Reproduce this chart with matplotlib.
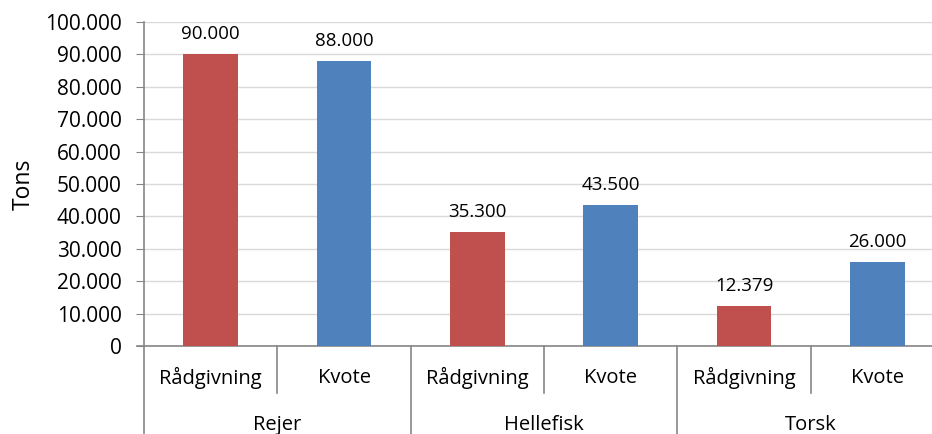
import numpy as np
import matplotlib
matplotlib.use('Agg')
import matplotlib.pyplot as plt
from matplotlib.ticker import FuncFormatter
from matplotlib.transforms import blended_transform_factory

plt.rcParams['font.family'] = ['Open Sans', 'DejaVu Sans']

# data ----------------------------------------------------------------------
species = ['Rejer', 'Hellefisk', 'Torsk']
kinds = ['Rådgivning', 'Kvote']
raadgivning = [90000, 35300, 12379]
kvote = [88000, 43500, 26000]

colors = {'Rådgivning': '#C0504D', 'Kvote': '#4F81BD'}
axis_grey = '#868686'

W, H = 932, 434
fig = plt.figure(figsize=(W / 100, H / 100), dpi=100)
# plot area in pixels: x 144..944 (cut off by the image), y 22..346
ax = fig.add_axes([144 / W, (H - 346) / H, 800 / W, 324 / H])

values = []
labels = []
for i, sp in enumerate(species):
    values += [raadgivning[i], kvote[i]]
    labels += kinds
pos = np.arange(len(values)) + 0.5
bar_colors = [colors[k] for k in labels]

bars = ax.bar(pos, values, width=0.41, color=bar_colors, zorder=3)

for b, v in zip(bars, values):
    ax.annotate('{:,}'.format(v).replace(',', '.'),
                (b.get_x() + b.get_width() / 2, v),
                xytext=(0, 8), textcoords='offset points',
                ha='center', va='bottom', fontsize=13.5)

ax.set_xlim(0, len(values))
ax.set_ylim(0, 100000)
ax.set_yticks(np.arange(0, 100001, 10000))
ax.yaxis.set_major_formatter(FuncFormatter(lambda v, p: '{:,}'.format(int(v)).replace(',', '.')))
ax.tick_params(axis='y', length=6, color=axis_grey, pad=10, labelsize=15)
ax.set_xticks([])
ax.grid(axis='y', color='#D9D9D9', linewidth=1, zorder=0)
ax.set_axisbelow(True)

for s in ['top', 'right']:
    ax.spines[s].set_visible(False)
for s in ['left', 'bottom']:
    ax.spines[s].set_color(axis_grey)
    ax.spines[s].set_linewidth(1.2)

ax.set_ylabel('Tons', fontsize=16.5, labelpad=7)

# two level category axis ------------------------------------------------------
tr = blended_transform_factory(ax.transData, ax.transAxes)
for p, lab in zip(pos, labels):
    ax.text(p, -0.1, lab, transform=tr, ha='center', va='center', fontsize=14.5)
for i, sp in enumerate(species):
    ax.text(2 * i + 1, -0.245, sp, transform=tr, ha='center', va='center', fontsize=14.5)

for x in range(len(values) + 1):
    low = -0.3 if x % 2 == 0 else -0.145
    ax.plot([x, x], [0, low], transform=tr, color=axis_grey, lw=1.2, clip_on=False)
# small stub of the x axis left of the y axis
ax.plot([-0.05, 0], [0, 0], transform=tr, color=axis_grey, lw=1.2, clip_on=False)

fig.savefig('out.png', dpi=100)
